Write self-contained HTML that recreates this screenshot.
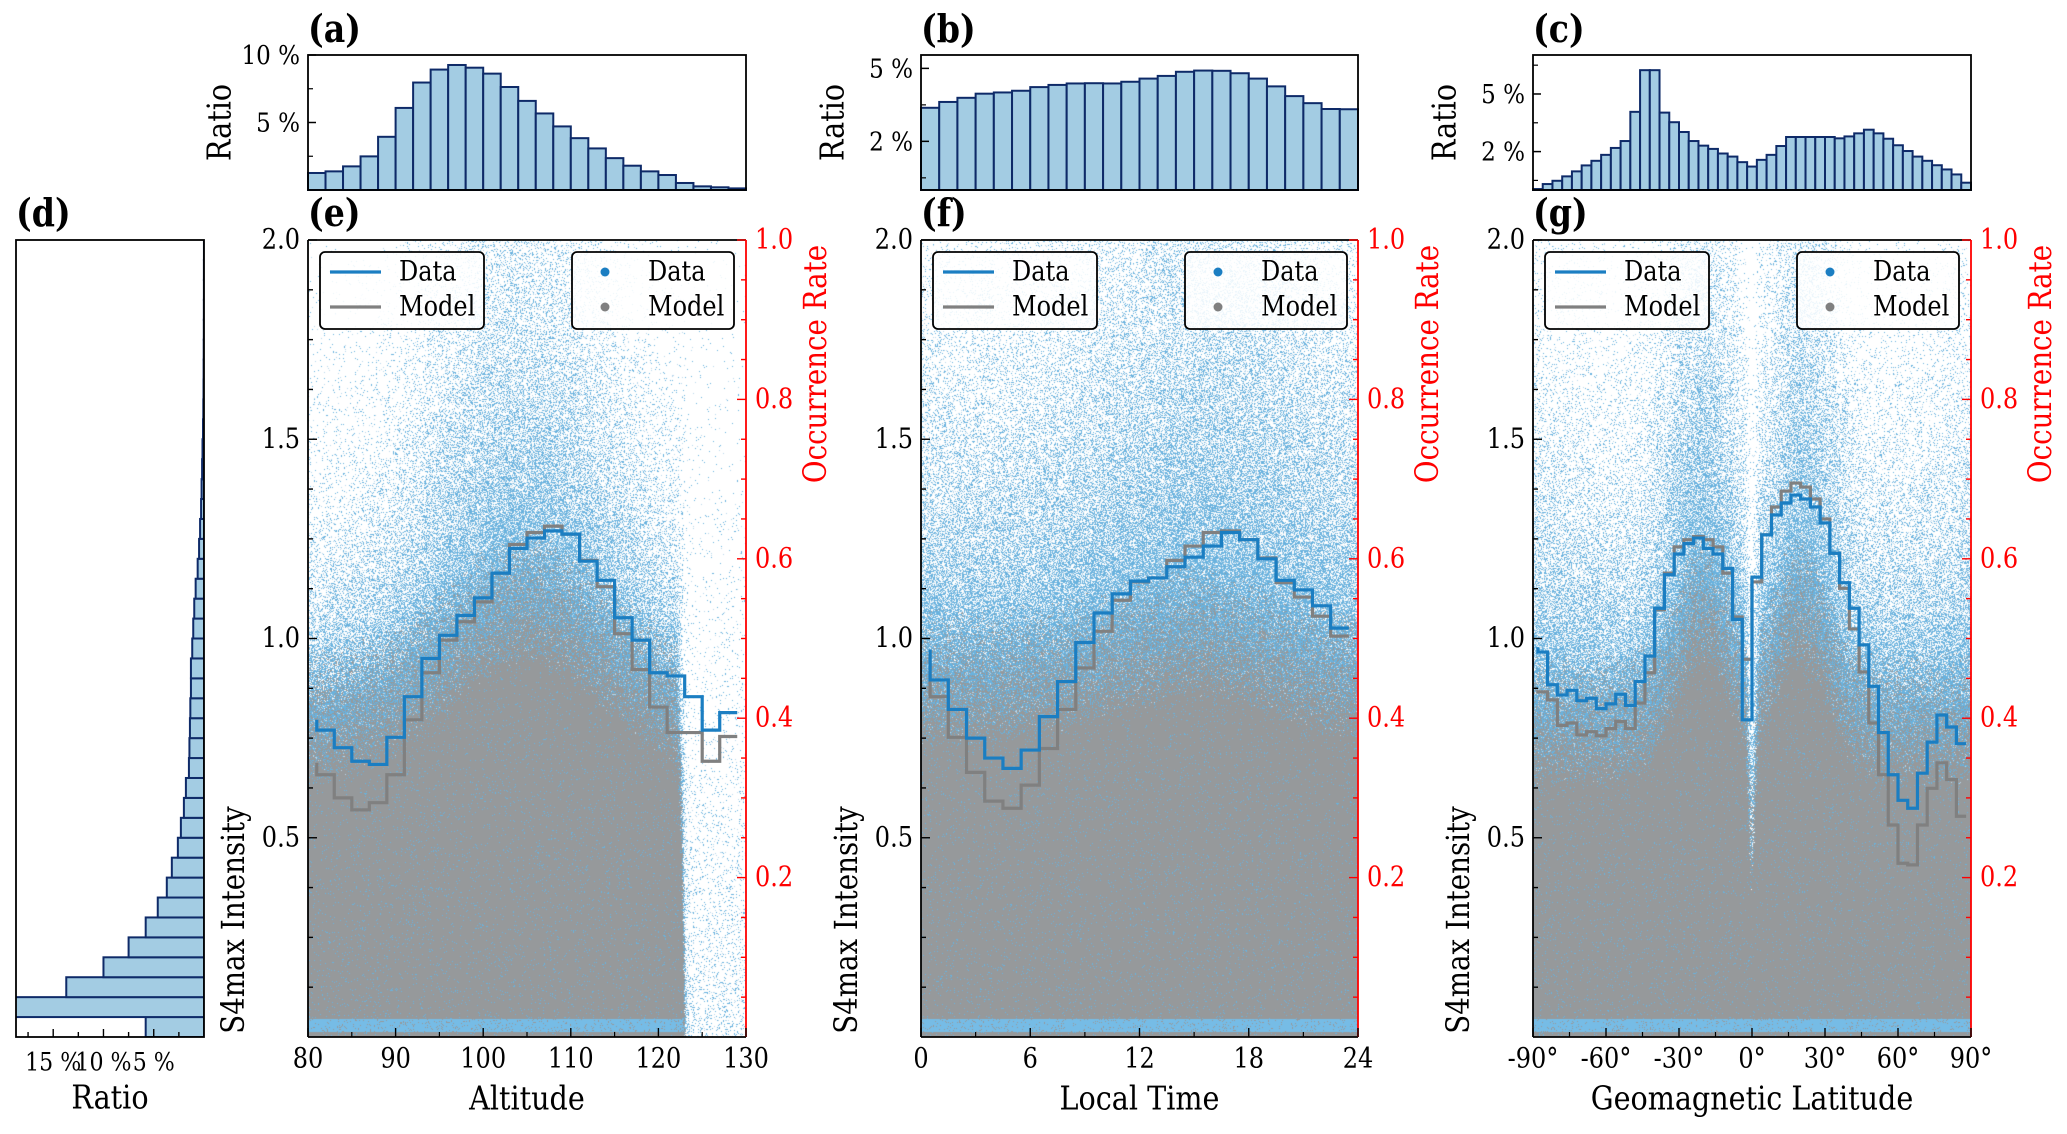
<!DOCTYPE html>
<html><head><meta charset="utf-8">
<style>
html,body{margin:0;padding:0;background:#fff;}
#wrap{position:relative;width:2067px;height:1134px;overflow:hidden;}
canvas{position:absolute;}
svg{position:absolute;left:0;top:0;}
text{font-family:"DejaVu Serif","Liberation Serif",serif;}
</style></head>
<body>
<div id="wrap">
<canvas id="cv-e" width="438" height="797" style="left:308px;top:240px"></canvas>
<canvas id="cv-f" width="437" height="797" style="left:921px;top:240px"></canvas>
<canvas id="cv-g" width="438" height="797" style="left:1533px;top:240px"></canvas>
<svg id="svg" width="2067" height="1134" xmlns="http://www.w3.org/2000/svg"></svg>
</div>
<script>
// ---------- data ----------
const altRatio = [1.26,1.38,1.75,2.49,3.94,6.08,7.96,8.92,9.26,9.06,8.62,7.63,6.60,5.67,4.71,3.84,3.08,2.36,1.80,1.38,1.11,0.52,0.27,0.20,0.12];
const ltRatio = [3.38,3.62,3.79,3.96,4.01,4.08,4.23,4.32,4.38,4.39,4.38,4.45,4.58,4.69,4.86,4.91,4.90,4.80,4.58,4.26,3.86,3.57,3.33,3.32];
const latRatio = [0.05,0.31,0.48,0.71,0.97,1.28,1.52,1.83,2.19,2.55,4.07,6.24,6.24,4.03,3.53,3.02,2.55,2.31,2.14,1.90,1.74,1.45,1.22,1.57,1.83,2.29,2.76,2.76,2.76,2.76,2.76,2.69,2.79,2.95,3.14,2.95,2.67,2.33,2.03,1.74,1.52,1.29,1.07,0.81,0.38];
const s4Ratio = [5.8,22,13.7,10.0,7.5,5.8,4.6,3.7,3.2,2.6,2.3,2.0,1.8,1.5,1.45,1.4,1.36,1.3,1.3,1.17,1.07,0.97,0.83,0.63,0.49,0.39,0.29,0.24,0.19,0.15,0.10,0.07,0.05,0.04,0.03,0.02,0.015,0.01,0.01,0.005];

const altX = [81,83,85,87,89,91,93,95,97,99,101,103,105,107,109,111,113,115,117,119,121,123,125,127,129];
const altData = [0.398,0.385,0.363,0.346,0.342,0.376,0.427,0.475,0.504,0.529,0.551,0.582,0.613,0.626,0.635,0.631,0.597,0.573,0.526,0.498,0.457,0.453,0.427,0.385,0.407];
const altModel = [0.344,0.329,0.300,0.285,0.294,0.329,0.398,0.457,0.498,0.521,0.546,0.582,0.618,0.633,0.641,0.631,0.598,0.565,0.506,0.461,0.414,0.382,0.382,0.346,0.377];

const ltX = [0.5,1.5,2.5,3.5,4.5,5.5,6.5,7.5,8.5,9.5,10.5,11.5,12.5,13.5,14.5,15.5,16.5,17.5,18.5,19.5,20.5,21.5,22.5,23.5];
const ltData = [0.486,0.448,0.411,0.375,0.350,0.337,0.360,0.402,0.446,0.495,0.532,0.556,0.572,0.576,0.590,0.602,0.616,0.633,0.624,0.600,0.573,0.561,0.541,0.513];
const ltModel = [0.469,0.427,0.376,0.332,0.296,0.287,0.316,0.362,0.411,0.463,0.509,0.548,0.571,0.576,0.598,0.616,0.633,0.635,0.624,0.601,0.570,0.552,0.528,0.503];

const latX = [-88,-84,-80,-76,-72,-68,-64,-60,-56,-52,-48,-44,-40,-36,-32,-28,-24,-20,-16,-12,-8,-4,0,4,8,12,16,20,24,28,32,36,40,44,48,52,56,60,64,68,72,76,80,84,88];
const latData = [0.489,0.483,0.442,0.429,0.435,0.422,0.425,0.412,0.418,0.430,0.416,0.446,0.478,0.538,0.580,0.606,0.619,0.626,0.613,0.606,0.588,0.524,0.398,0.577,0.630,0.655,0.670,0.680,0.675,0.665,0.645,0.607,0.570,0.538,0.492,0.440,0.382,0.329,0.297,0.287,0.331,0.370,0.404,0.389,0.368];
const latModel = [0.435,0.433,0.423,0.391,0.394,0.379,0.383,0.378,0.387,0.396,0.387,0.419,0.457,0.536,0.582,0.615,0.624,0.628,0.624,0.615,0.582,0.527,0.474,0.571,0.630,0.665,0.685,0.695,0.690,0.675,0.650,0.607,0.563,0.512,0.458,0.394,0.329,0.266,0.218,0.216,0.266,0.312,0.344,0.323,0.277];

const altTicks = [80,90,100,110,120,130];
const ltTicks = [0,6,12,18,24];
const latTicks = [-90,-60,-30,0,30,60,90];
const latTickLabels = ["-90°","-60°","-30°","0°","30°","60°","90°"];
const intTicks = [0.5,1.0,1.5,2.0];
const rateTicks = [0.2,0.4,0.6,0.8,1.0];

// ---------- helpers ----------
const NS = "http://www.w3.org/2000/svg";
const svg = document.getElementById('svg');
const SX = 0.87, FS = 1.06;
function el(tag, attrs, parent){
  const e = document.createElementNS(NS, tag);
  for (const k in attrs) e.setAttribute(k, attrs[k]);
  (parent||svg).appendChild(e);
  return e;
}
function nm(e, name, inter){
  
  
  return e;
}
function txt(x,y,s,size,opt,parent){
  opt = opt||{};
  const t = el('text',{x:x,y:y,'font-size':(size*FS).toFixed(1),'text-anchor':opt.anchor||'middle','dominant-baseline':'central',fill:opt.fill||'#000','font-weight':opt.bold?'bold':'normal'},parent);
  const sc = 'translate('+x+' '+y+') scale('+SX+' 1) translate('+(-x)+' '+(-y)+')';
  t.setAttribute('transform', opt.rot ? 'rotate(-90 '+x+' '+y+') '+sc : sc);
  t.textContent = s;
  return t;
}
function lin(d0,d1,r0,r1){ return v => r0 + (v-d0)/(d1-d0)*(r1-r0); }

const BAR_FILL = '#a3cce3', BAR_STROKE = '#0e2a68';
const BLUE = '#1b7ec2', GRAY = '#808080';
const MY0 = 240, MY1 = 1037, TY0 = 55, TY1 = 190;

// ---------- scatter clouds (density texture) ----------
function hash(i,j,s){
  let n = Math.imul(i,374761393) + Math.imul(j,668265263) + Math.imul(s,1442695040);
  n = Math.imul(n ^ (n>>>13), 1274126177);
  n = n ^ (n>>>16);
  return (n>>>0)/4294967296;
}
function cloud(id, domain, gtf, decf, basef, stripf, seed){
  const c = document.getElementById(id), W=c.width, H=c.height;
  const ctx = c.getContext('2d'); const img = ctx.createImageData(W,H); const d = img.data;
  for (let i=0;i<W;i++){
    const xv = domain[0] + (i+0.5)/W*(domain[1]-domain[0]);
    const gt = gtf(xv), dec = decf(xv), base = basef(xv), strip = stripf(xv);
    for (let j=0;j<H;j++){
      const v = 2*(1-(j+0.5)/H);
      const r1 = hash(i,j,seed), r2 = hash(j,i,seed+7);
      let col = [255,255,255];
      const pg = Math.max(0,Math.min(1,(gt - v)/0.35 + 0.5));
      if (v > 0.012 && v < 0.045 && r2 < strip) col = [118,188,230];
      else if (r1 < pg) col = (r2 < 0.25*(1-pg)+0.04) ? [105,178,222] : [150,153,155];
      else {
        const pb = base*Math.exp(-Math.max(0,v-gt)/dec);
        if (r2 < pb) col = [105,178,222];
        else if (r2 < pb*1.3) col = [185,216,236];
      }
      const k = (j*W+i)*4; d[k]=col[0]; d[k+1]=col[1]; d[k+2]=col[2]; d[k+3]=255;
    }
  }
  ctx.putImageData(img,0,0);
}
function sig(x){ return 1/(1+Math.exp(-x)); }
cloud('cv-e',[80,130],
  a => -0.6 + sig((123-a)/0.25)*(1.4+0.3*Math.exp(-Math.pow((a-105)/13,2))),
  a => 0.22+0.3*Math.exp(-Math.pow((a-104)/12,2)) + 0.4*sig((a-123)/0.3),
  a => 0.33 + 0.47*sig((123-a)/0.3),
  a => 0.92*sig((123-a)/0.3), 11);
cloud('cv-f',[0,24],
  t => 0.9+0.12*Math.exp(-Math.pow((t-15)/6,2)),
  t => 0.4+0.25*Math.exp(-Math.pow((t-16)/7,2)),
  t => 0.8, t => 0.92, 23);
cloud('cv-g',[-90,90],
  l => 0.8+0.3*Math.exp(-Math.pow((Math.abs(l)-20)/16,2)) - 0.35*Math.exp(-Math.pow(l/1.8,2)),
  l => 0.3+0.3*Math.exp(-Math.pow((Math.abs(l)-22)/16,2))+0.1*Math.pow(Math.abs(l)/90,3),
  l => 0.8 - 0.3*Math.exp(-Math.pow(l/1.8,2)), l => 0.92, 37);

// ---------- panel labels ----------
[['(a)',308,29],['(b)',921,29],['(c)',1533,29],['(d)',16,213],['(e)',308,213],['(f)',921,213],['(g)',1533,213]].forEach(p=>{
  const t = txt(p[1],p[2],p[0],36,{anchor:'start',bold:true});
  nm(t,'panel-label-'+p[0].replace(/[()]/g,''),false);
});

// ---------- top histograms ----------
function topHist(key, x0, x1, vals, ymax, majors, majorLabels, minors){
  const g = nm(el('g',{}), 'hist-'+key, false);
  const x = lin(0, vals.length, x0, x1), y = lin(0, ymax, TY1, TY0);
  vals.forEach((v,i)=>{
    const r = el('rect',{x:x(i),y:y(v),width:x(i+1)-x(i),height:TY1-y(v),fill:BAR_FILL,stroke:BAR_STROKE,'stroke-width':2},g);
    nm(r,'bar-'+key+'-'+i,false);
  });
  const fr = el('rect',{x:x0,y:TY0,width:x1-x0,height:TY1-TY0,fill:'none',stroke:'#000','stroke-width':1.8},g);
  nm(fr,'frame-'+key,false);
  majors.forEach((m,i)=>{
    el('line',{x1:x0,x2:x0+8,y1:y(m),y2:y(m),stroke:'#000','stroke-width':1.5},g);
    nm(txt(x0-8,y(m),majorLabels[i],25,{anchor:'end'},g),'ytick-label-'+key,false);
  });
  minors.forEach(m=>{ el('line',{x1:x0,x2:x0+5,y1:y(m),y2:y(m),stroke:'#000','stroke-width':1.2},g); });
  nm(txt(x0-88,(TY0+TY1)/2,'Ratio',31,{rot:true},g),'y-axis-title-'+key,false);
}
topHist('altitude',308,746,altRatio,10,[5,10],['5 %','10 %'],[2.5,7.5]);
topHist('local-time',921,1358,ltRatio,5.55,[2,5],['2 %','5 %'],[0.5,3.5]);
topHist('latitude',1533,1971,latRatio,7.03,[2,5],['2 %','5 %'],[0.5,3.5,6.5]);

// ---------- (d) horizontal histogram ----------
(function(){
  const X0=16, X1=204, xmax=18.7;
  const g = nm(el('g',{}),'hist-intensity',false);
  const cp = el('clipPath',{id:'clipd'},g); el('rect',{x:X0,y:MY0,width:X1-X0,height:MY1-MY0},cp);
  const bars = el('g',{'clip-path':'url(#clipd)'},g);
  const x = lin(0,xmax,X1,X0), y = lin(0,2,MY1,MY0);
  s4Ratio.forEach((v,i)=>{
    const r = el('rect',{x:x(v),y:y((i+1)*0.05),width:X1-x(v),height:y(i*0.05)-y((i+1)*0.05),fill:BAR_FILL,stroke:BAR_STROKE,'stroke-width':2},bars);
    nm(r,'bar-intensity-'+i,false);
  });
  nm(el('rect',{x:X0,y:MY0,width:X1-X0,height:MY1-MY0,fill:'none',stroke:'#000','stroke-width':1.8},g),'frame-intensity-hist',false);
  [2.5,5,7.5,10,12.5,15,17.5].forEach(m=>{ el('line',{x1:x(m),x2:x(m),y1:MY1,y2:MY1-(m%5===0?8:5),stroke:'#000','stroke-width':1.4},g); });
  nm(txt(x(15),1062,'15 %',24,{},g),'xtick-label-15',false);
  nm(txt(x(10),1062,'10 %',24,{},g),'xtick-label-10',false);
  nm(txt(x(5),1062,'5 %',24,{},g),'xtick-label-5',false);
  nm(txt(110,1098,'Ratio',31,{},g),'x-axis-title-intensity-hist',false);
})();

// ---------- main panels ----------
function mainPanel(key, x0, x1, dom, xs, dat, mod, ticks, tickLabels, minors, xtitle){
  const g = nm(el('g',{}),'panel-'+key,false);
  const x = lin(dom[0],dom[1],x0,x1), yI = lin(0,2,MY1,MY0), yR = lin(0,1,MY1,MY0);
  function stepPath(vals){
    let d = 'M'+x(xs[0])+','+yR(vals[0]);
    for(let i=1;i<xs.length;i++){ d += ' V'+yR(vals[i])+' H'+x(xs[i]); }
    return d;
  }
  nm(el('path',{d:stepPath(mod),fill:'none',stroke:GRAY,'stroke-width':3.2},g),'model-line-'+key,false);
  nm(el('path',{d:stepPath(dat),fill:'none',stroke:BLUE,'stroke-width':3.2},g),'data-line-'+key,false);
  el('line',{x1:x0,x2:x1,y1:MY0,y2:MY0,stroke:'#000','stroke-width':1.8},g);
  el('line',{x1:x0,x2:x1,y1:MY1,y2:MY1,stroke:'#000','stroke-width':1.8},g);
  nm(el('line',{x1:x0,x2:x0,y1:MY0,y2:MY1,stroke:'#000','stroke-width':1.8},g),'left-axis-'+key,false);
  nm(el('line',{x1:x1,x2:x1,y1:MY0,y2:MY1,stroke:'#ff0000','stroke-width':1.8},g),'right-axis-'+key,false);
  for(let k=1;k<=16;k++){ const v=k*0.125; const maj = (k%4===0);
    el('line',{x1:x0,x2:x0+(maj?9:5),y1:yI(v),y2:yI(v),stroke:'#000','stroke-width':1.4},g); }
  intTicks.forEach(v=>{ nm(txt(x0-8,yI(v),v.toFixed(1),26,{anchor:'end'},g),'ytick-label-'+key,false); });
  for(let k=1;k<=20;k++){ const v=k*0.05; const maj=(k%4===0);
    el('line',{x1:x1,x2:x1-(maj?9:5),y1:yR(v),y2:yR(v),stroke:'#ff0000','stroke-width':1.4},g); }
  rateTicks.forEach(v=>{ nm(txt(x1+9,yR(v),v.toFixed(1),26,{anchor:'start',fill:'#ff0000'},g),'right-tick-label-'+key,false); });
  ticks.forEach((t,i)=>{
    el('line',{x1:x(t),x2:x(t),y1:MY1,y2:MY1-9,stroke:'#000','stroke-width':1.4},g);
    nm(txt(x(t),1059,tickLabels[i],26,{},g),'xtick-label-'+key,false);
  });
  minors.forEach(t=>{ el('line',{x1:x(t),x2:x(t),y1:MY1,y2:MY1-5,stroke:'#000','stroke-width':1.2},g); });
  nm(txt((x0+x1)/2,1099,xtitle,31,{},g),'x-axis-title-'+key,false);
  nm(txt(x0-74,920,'S4max Intensity',30,{rot:true},g),'y-axis-title-'+key,false);
  nm(txt(x1+70,364,'Occurrence Rate',30,{rot:true,fill:'#ff0000'},g),'right-axis-title-'+key,false);
  const lg1 = nm(el('g',{},g),'line-legend-'+key,true);
  el('rect',{x:x0+12,y:252,width:164,height:77,rx:5,fill:'#fff','fill-opacity':0.85,stroke:'#000','stroke-width':1.8},lg1);
  el('line',{x1:x0+22,x2:x0+73,y1:272,y2:272,stroke:BLUE,'stroke-width':3.2},lg1);
  el('line',{x1:x0+22,x2:x0+73,y1:307,y2:307,stroke:GRAY,'stroke-width':3.2},lg1);
  nm(txt(x0+91,272,'Data',26,{anchor:'start'},lg1),'legend-entry-data-line',false);
  nm(txt(x0+91,307,'Model',26,{anchor:'start'},lg1),'legend-entry-model-line',false);
  const lg2 = nm(el('g',{},g),'point-legend-'+key,true);
  el('rect',{x:x0+264,y:252,width:162,height:77,rx:5,fill:'#fff','fill-opacity':0.85,stroke:'#000','stroke-width':1.8},lg2);
  el('circle',{cx:x0+297,cy:272,r:4.5,fill:BLUE},lg2);
  el('circle',{cx:x0+297,cy:307,r:4.5,fill:GRAY},lg2);
  nm(txt(x0+340,272,'Data',26,{anchor:'start'},lg2),'legend-entry-data-points',false);
  nm(txt(x0+340,307,'Model',26,{anchor:'start'},lg2),'legend-entry-model-points',false);
}
mainPanel('altitude',308,746,[80,130],altX,altData,altModel,altTicks,altTicks.map(String),[85,95,105,115,125],'Altitude');
mainPanel('local-time',921,1358,[0,24],ltX,ltData,ltModel,ltTicks,ltTicks.map(String),[3,9,15,21],'Local Time');
mainPanel('latitude',1533,1971,[-90,90],latX,latData,latModel,latTicks,latTickLabels,[-75,-45,-15,15,45,75],'Geomagnetic Latitude');
</script>
</body></html>
